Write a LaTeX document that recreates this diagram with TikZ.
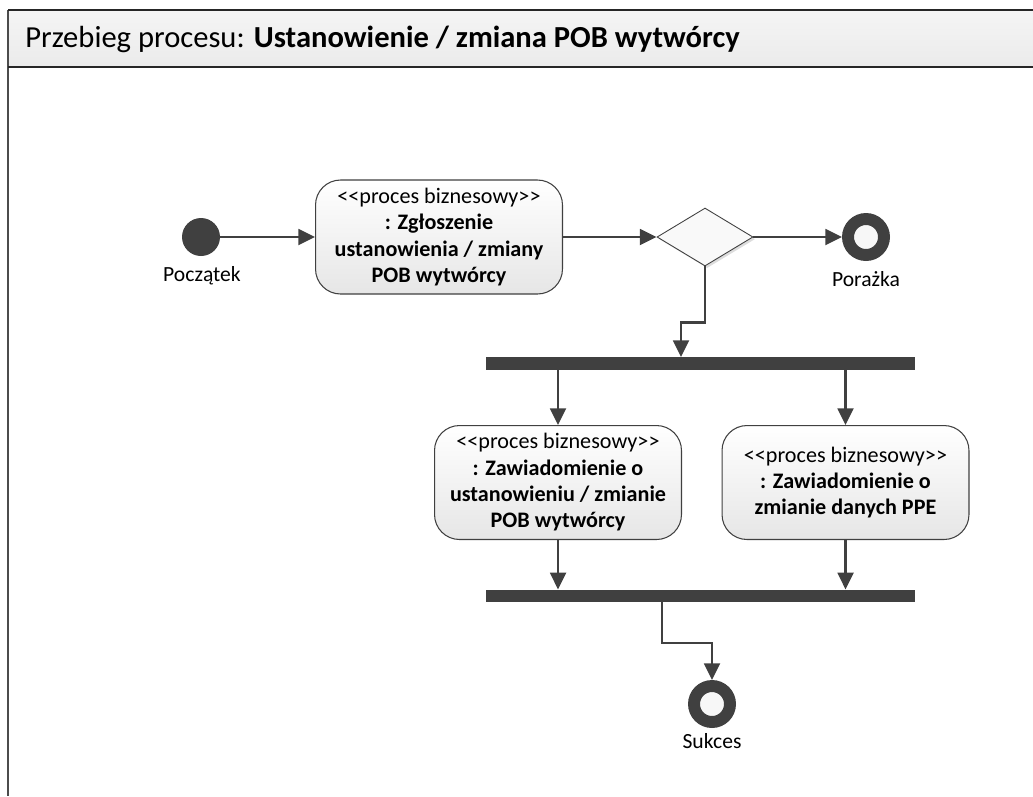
\documentclass[tikz,border=0pt]{standalone}
\usepackage{fontspec}
\setmainfont{Carlito}
\usetikzlibrary{arrows.meta,shapes.geometric,shadows}
\definecolor{umldark}{HTML}{404040}
\definecolor{framedark}{HTML}{262626}
\definecolor{boxbot}{HTML}{E6E6E6}
\newcommand{\stereo}[1]{<\kern0pt<#1>\kern0pt>}

\begin{document}
\begin{tikzpicture}[x=0.02cm,y=-0.02cm,
  flow/.style={draw=umldark,line width=1.4pt,-{Triangle[length=9.5pt,width=9pt]}},
  action/.style={draw=umldark,line width=0.6pt,rounded corners=0.5cm,top color=white,
    bottom color=boxbot,minimum width=4.94cm,minimum height=2.28cm,inner sep=0pt,
    align=center,font=\fontsize{12.6}{15}\selectfont},
  forkbar/.style={fill=umldark,minimum width=8.58cm,minimum height=0.25cm,inner sep=0pt},
  initial/.style={circle,fill=umldark,minimum size=0.76cm,inner sep=0pt},
  final/.style={circle,draw=umldark,line width=6.8pt,fill=gray!6,minimum size=0.72cm,inner sep=0pt},
  caption/.style={font=\fontsize{12.3}{14}\selectfont}]
\useasboundingbox (0,0) rectangle (1033,796);

%frame with title
\fill[top color=gray!8,bottom color=gray!16] (8,10) rectangle (1033,67);
\draw[gray!60!black,line width=1pt] (8,10) -- (8,796);
\draw[framedark,line width=1.6pt] (8,10) -- (1033,10);\draw[framedark,line width=1.6pt] (8,67) -- (1033,67);
\node[anchor=west,font=\fontsize{17.4}{20}\selectfont,inner sep=0pt] (title) at (25,39) {Przebieg procesu: \textbf{Ustanowienie / zmiana POB wytwórcy}};

\node[initial] (start) at (201,237) {};\node[caption] (startlbl) at (202,276) {Początek};
\node[action] (zgl) at (439,237) {\stereo{proces biznesowy}\\ \textbf{: Zgłoszenie}\\ \textbf{ustanowienia / zmiany}\\ \textbf{POB wytwórcy}};
\node[diamond,draw=umldark,line width=0.5pt,fill=gray!5,minimum width=1.92cm,minimum height=1.16cm,inner sep=0pt,
  drop shadow={shadow xshift=1.2pt,shadow yshift=-1.2pt,fill=gray!45,opacity=0.6}] (dec) at (705,237) {};
\node[final] (fail) at (866,237) {};\node[caption] (faillbl) at (866,279) {Porażka};

%fork
\node[forkbar] (fork) at (700.5,363.5) {};
\node[action] (zawpob) at (558,482.5) {\stereo{proces biznesowy}\\ \textbf{: Zawiadomienie o}\\ \textbf{ustanowieniu / zmianie}\\ \textbf{POB wytwórcy}};
\node[action] (zawppe) at (845.5,482.5) {\stereo{proces biznesowy}\\ \textbf{: Zawiadomienie o}\\ \textbf{zmianie danych PPE}};

%join
\node[forkbar] (join) at (700.5,596) {};
\node[final] (succ) at (712,704) {};\node[caption] (succlbl) at (712,741) {Sukces};
\coordinate (forkin) at (681,357);
\coordinate (joinout) at (662,602);

\draw[flow] (start) -- (zgl);
\draw[flow] (zgl) -- (dec);
\draw[flow] (dec) -- (fail);
\draw[flow] (dec.south) -- ++(0,56) -| (forkin);
\draw[flow] (fork.south -| zawpob) -- (zawpob);
\draw[flow] (fork.south -| zawppe) -- (zawppe);
\draw[flow] (zawpob) -- (zawpob |- join.north);
\draw[flow] (zawppe) -- (zawppe |- join.north);
\draw[flow] (joinout) -- ++(0,41) -| (succ);
\end{tikzpicture}
\end{document}
